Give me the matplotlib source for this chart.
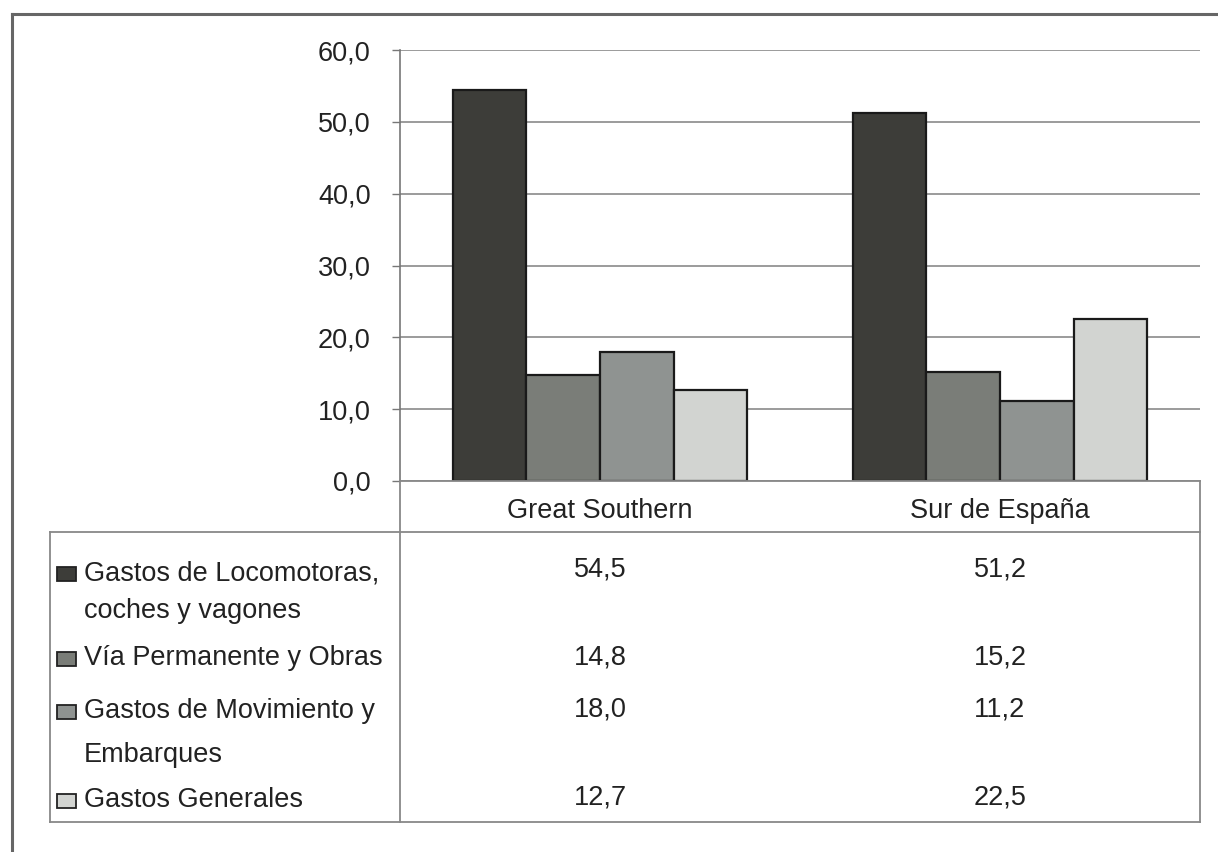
import matplotlib
matplotlib.use("Agg")
import matplotlib.pyplot as plt
from matplotlib.patches import Rectangle
from matplotlib.lines import Line2D

categories = ["Great Southern", "Sur de España"]
series_names = [["Gastos de Locomotoras,", "coches y vagones"],
                ["Vía Permanente y Obras"],
                ["Gastos de Movimiento y", "Embarques"],
                ["Gastos Generales"]]
values = [[54.5, 51.2],
          [14.8, 15.2],
          [18.0, 11.2],
          [12.7, 22.5]]
value_labels = [["54,5", "51,2"], ["14,8", "15,2"], ["18,0", "11,2"], ["12,7", "22,5"]]
colors = ["#3d3d39", "#7a7d78", "#8f9391", "#d2d4d1"]
yticks = [0, 10, 20, 30, 40, 50, 60]

W, H = 1218, 852
plt.rcParams['font.family'] = ['Liberation Sans', 'DejaVu Sans']
fig = plt.figure(figsize=(W / 100, H / 100), dpi=100)
FS = 19.5
TXT = "#222222"

def fx(x):
    return x / W

def fy(y):
    return 1 - y / H

# plot area in pixel coords
L, R, T, B = 400, 1200, 50, 481
ax = fig.add_axes([fx(L), fy(B), fx(R) - fx(L), fy(T) - fy(B)])
ax.set_xlim(-0.5, 1.5)
ax.set_ylim(0, 60)
ax.set_yticks(yticks)
ax.set_yticklabels([f"{v},0" for v in yticks], fontsize=FS, color=TXT)
ax.tick_params(axis="y", length=6, width=1, color="#777", pad=15)
ax.set_xticks([])
for s in ["top", "right", "bottom"]:
    ax.spines[s].set_visible(False)
ax.spines["left"].set_color("#777")
ax.spines["left"].set_linewidth(1.2)
ax.yaxis.grid(True, color="#8a8a8a", linewidth=1.2)
ax.set_axisbelow(True)

bw = 0.184
for i, (vals, c) in enumerate(zip(values, colors)):
    xs = [k + (i - 1.5) * bw for k in range(len(categories))]
    ax.bar(xs, vals, width=bw, color=c, edgecolor="#1a1a1a", linewidth=1.6, zorder=3)

# overlay for table and frame
ov = fig.add_axes([0, 0, 1, 1])
ov.set_xlim(0, W)
ov.set_ylim(H, 0)
ov.axis("off")

def line(x0, y0, x1, y1, c="#888", lw=1.3):
    ov.add_line(Line2D([x0, x1], [y0, y1], color=c, linewidth=lw))

# outer frame
line(12, 14, 1218, 14, c="#666", lw=2.2)
line(12, 14, 12, 852, c="#666", lw=2.2)

# table
line(400, B, 1200, B)
line(1200, B, 1200, 822)
line(50, 532, 1200, 532)
line(50, 532, 50, 822)
line(50, 822, 1200, 822)
line(400, B, 400, 822)

# header
for k, cat in enumerate(categories):
    ov.text(600 + 400 * k, 518, cat, ha="center", va="baseline", fontsize=FS, color=TXT)

label_base = [[580, 618], [665], [718, 762], [807]]
value_base = [576, 665, 716, 805]
for i, lines in enumerate(series_names):
    yb = label_base[i][0]
    ov.add_patch(Rectangle((57, yb - 13), 19, 14, facecolor=colors[i], edgecolor="#222", linewidth=1.3))
    for txt, y in zip(lines, label_base[i]):
        ov.text(84, y, txt, ha="left", va="baseline", fontsize=FS, color=TXT)
    for k in range(len(categories)):
        ov.text(600 + 400 * k, value_base[i], value_labels[i][k], ha="center", va="baseline",
                fontsize=FS, color=TXT)

fig.savefig("out.png", dpi=100, facecolor="white")
